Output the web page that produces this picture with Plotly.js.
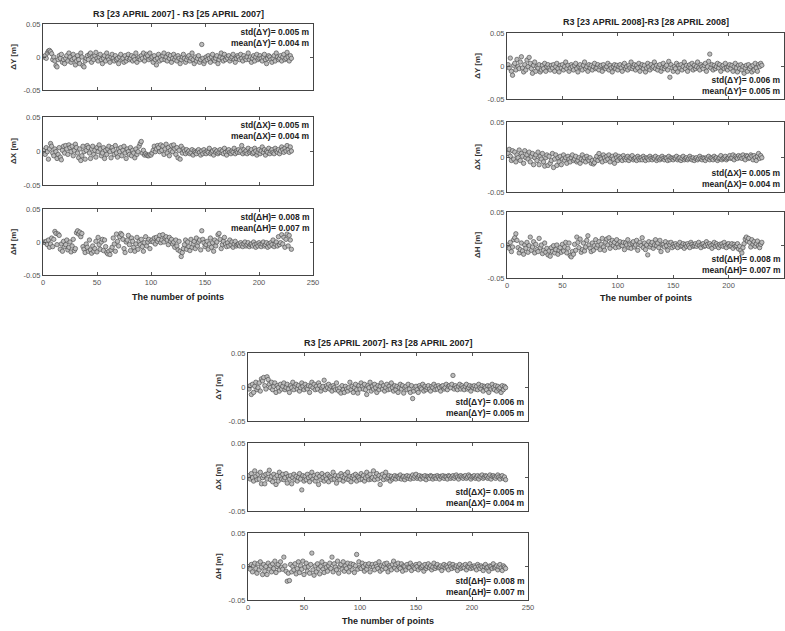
<!DOCTYPE html>
<html>
<head>
<meta charset="utf-8">
<script src="https://cdn.plot.ly/plotly-3.0.1.min.js"></script>
<style>html,body{margin:0;padding:0;background:#fff;}#chart{width:785px;height:631px;}</style>
</head>
<body>
<div id="chart"></div>
<script>
// ---------------- DATA ----------------
const pointNumber = [1,2,3,4,5,6,7,8,9,10,11,12,13,14,15,16,17,18,19,20,21,22,23,24,25,26,27,28,29,30,31,32,33,34,35,36,37,38,39,40,41,42,43,44,45,46,47,48,49,50,51,52,53,54,55,56,57,58,59,60,61,62,63,64,65,66,67,68,69,70,71,72,73,74,75,76,77,78,79,80,81,82,83,84,85,86,87,88,89,90,91,92,93,94,95,96,97,98,99,100,101,102,103,104,105,106,107,108,109,110,111,112,113,114,115,116,117,118,119,120,121,122,123,124,125,126,127,128,129,130,131,132,133,134,135,136,137,138,139,140,141,142,143,144,145,146,147,148,149,150,151,152,153,154,155,156,157,158,159,160,161,162,163,164,165,166,167,168,169,170,171,172,173,174,175,176,177,178,179,180,181,182,183,184,185,186,187,188,189,190,191,192,193,194,195,196,197,198,199,200,201,202,203,204,205,206,207,208,209,210,211,212,213,214,215,216,217,218,219,220,221,222,223,224,225,226,227,228,229,230];

const groupTitles = ["R3 [23 APRIL 2007] - R3 [25 APRIL 2007]", "R3 [23 APRIL 2008]-R3 [28 APRIL 2008]", "R3 [25 APRIL 2007]- R3 [28 APRIL 2007]"];
const componentNames = ["ΔY", "ΔX", "ΔH"];
const yTickValues = [-0.05, 0, 0.05];
const yTickLabels = ["-0.05", "0", "0.05"];
const xTickValues = [0, 50, 100, 150, 200, 250];
const xTickLabels = ["0", "50", "100", "150", "200", "250"];

// std / mean per group, per component (m)
const stdValues  = [[0.005, 0.005, 0.008], [0.006, 0.005, 0.008], [0.006, 0.005, 0.008]];
const meanValues = [[0.004, 0.004, 0.007], [0.005, 0.004, 0.007], [0.005, 0.004, 0.007]];

// Group 1: R3 [23 APRIL 2007] - R3 [25 APRIL 2007]
const g1DY = [0,0.002,-0.002,0.006,0.009,0.01,0.008,0.005,-0.004,0,
-0.006,-0.013,-0.015,-0.004,0.002,-0.002,0.004,-0.008,-0.004,-0.01,
-0.002,0.002,-0.006,0.006,0,-0.008,-0.004,0.004,-0.002,-0.012,
-0.006,0.002,-0.004,-0.01,0.006,0,-0.013,-0.015,-0.006,-0.002,
0.002,-0.004,0.004,0.006,-0.008,0,-0.004,0.002,0.007,-0.002,
-0.006,0,0.004,-0.004,-0.01,-0.002,0.002,-0.006,0.006,0,
-0.004,-0.008,0,0.004,-0.002,-0.006,0.002,-0.004,-0.002,-0.01,
0,0.004,-0.004,-0.002,-0.008,0.002,-0.006,-0.002,0.004,-0.004,
-0.002,0.002,-0.006,0,-0.004,0.006,-0.008,-0.002,0,-0.004,
0.002,-0.002,0.006,-0.006,0,0.004,0.002,-0.004,0.006,-0.002,
0,-0.008,0.002,-0.004,-0.012,-0.002,0.004,-0.006,0,-0.004,
0.002,0.006,-0.004,0,-0.006,0.004,-0.002,0.002,-0.008,-0.002,
0.004,-0.004,0,-0.006,0.002,-0.002,-0.01,-0.004,0,0.004,
-0.002,-0.008,-0.004,0,0.002,-0.006,-0.002,0.006,-0.004,-0.01,
0,-0.006,-0.002,0.002,-0.008,-0.004,0.019,-0.002,-0.01,-0.006,
0,-0.004,0.002,-0.002,-0.008,0,0.004,-0.004,-0.006,-0.002,
0.002,-0.01,-0.004,0,0.006,-0.002,-0.006,0.004,-0.004,0,
-0.002,0.002,-0.006,-0.002,0,0.004,-0.004,-0.008,-0.002,0.002,
0,-0.004,0.004,-0.002,-0.006,0.002,-0.002,-0.004,0,0.006,
-0.004,0,-0.008,-0.002,0.002,-0.006,0,0.004,-0.004,-0.002,
0.002,-0.002,-0.006,0,0.004,-0.004,-0.01,-0.002,0.002,0,
-0.004,-0.008,-0.002,0.002,-0.006,0.006,0,-0.004,-0.002,0.002,
-0.006,0,0.004,-0.004,-0.002,0.007,0,-0.006,0.002,-0.002];

const g1DX = [0.001,-0.005,0.005,-0.001,-0.012,0.003,0.011,0.007,-0.003,-0.007,
0.003,-0.001,-0.011,-0.005,0.005,-0.009,-0.013,0.001,0.007,-0.003,
0.008,0.003,-0.005,0.009,0.005,-0.001,0.007,-0.007,0.001,0.01,
0.005,-0.003,-0.01,0.003,-0.014,-0.007,0.007,-0.001,-0.012,0.001,
0.008,0.005,-0.003,-0.011,0.003,0.007,-0.005,0.001,-0.009,0.005,
-0.001,0.009,0.003,-0.007,-0.003,0.005,-0.011,0.001,-0.005,0.003,
0.007,-0.001,-0.01,0.005,0.001,-0.005,0.008,-0.003,-0.009,0.003,
-0.001,0.005,-0.007,0.001,0.007,-0.003,-0.011,0.003,-0.001,-0.005,
0.005,-0.007,0.001,-0.003,-0.01,0.003,-0.005,-0.001,0.007,0.011,
0.014,-0.003,0.001,-0.006,-0.004,-0.006,-0.007,-0.007,-0.005,-0.006,
-0.003,0.001,0.007,-0.001,0.003,0.008,0.005,-0.001,0.009,0.001,
0.007,-0.005,0.003,0.01,-0.003,0.005,-0.007,0.001,0.008,-0.001,
0.009,0.003,-0.005,0.005,-0.01,0.001,-0.012,0.007,-0.003,0.003,
0,-0.004,0.002,-0.002,0,-0.004,-0.002,0.002,-0.006,0,
-0.002,-0.004,0,0.002,-0.002,-0.006,0,-0.004,0.002,-0.002,
-0.004,0,-0.002,0.004,-0.004,-0.002,0,-0.006,0.002,-0.002,
0,-0.004,-0.002,0.002,-0.002,0,-0.004,0.004,-0.002,-0.006,
0,0.002,-0.002,-0.004,0,-0.002,0.004,-0.004,0,-0.002,
0.002,-0.002,0,0.008,-0.004,0.002,-0.002,0,-0.004,0.004,
-0.002,0,0.002,-0.004,-0.002,0.004,0,-0.006,-0.002,0.002,
-0.004,0,0.006,-0.002,0.002,-0.006,0,-0.002,0.004,-0.004,
0,0.002,-0.002,-0.004,0.004,0,-0.002,0.002,-0.004,0,
0.006,0.002,-0.002,0.004,0,0.008,0.002,-0.002,0.006,0];

const g1DH = [0,-0.001,0.001,-0.004,0.003,-0.008,-0.003,0.006,-0.007,0.004,
0.016,0.013,-0.004,0.012,0.01,-0.011,-0.003,-0.014,0.001,-0.007,
-0.004,0.003,-0.012,-0.008,0,-0.015,-0.006,0.004,-0.013,-0.01,
0.014,0.017,0.012,0.015,0.008,0.013,-0.007,-0.011,-0.016,-0.003,
-0.008,-0.014,0.003,-0.012,-0.017,-0.006,-0.014,-0.01,0.001,-0.015,
0.007,-0.004,-0.011,0,0.004,-0.013,0.003,-0.007,-0.016,-0.018,
-0.014,-0.019,-0.012,-0.008,0.006,-0.003,-0.014,0.012,0.001,-0.006,
0.008,0.013,0.011,0.004,-0.01,-0.016,0,0.003,0.01,-0.004,
-0.013,0.006,0.001,-0.008,-0.014,-0.003,0.007,-0.011,0.001,-0.004,
0.004,-0.007,-0.014,-0.001,0.008,-0.006,0,0.004,-0.01,0.001,
0.003,0,0.006,-0.003,0.007,0.001,0.004,0.01,-0.001,0.003,
0.011,0,0.006,0.008,0.003,-0.004,0.007,0.001,0.004,-0.003,
0,-0.008,0.003,-0.006,-0.012,0.001,-0.014,-0.022,-0.016,-0.01,
-0.004,0.003,-0.011,0,-0.007,-0.013,0.004,-0.008,-0.003,0.001,
-0.01,0.006,-0.006,0,0.003,-0.012,0.017,0.004,-0.001,-0.007,
-0.004,0.001,-0.011,-0.003,0.006,-0.008,-0.001,-0.014,0.003,-0.006,
0,0.011,0.013,0.004,-0.01,-0.004,0.001,0.007,-0.003,-0.007,
-0.001,-0.006,0.003,-0.004,0,-0.008,-0.003,0.001,-0.006,-0.004,
-0.003,-0.006,-0.001,-0.004,-0.007,-0.003,0,-0.006,-0.004,-0.001,
-0.007,-0.004,-0.003,-0.006,0,-0.004,-0.008,-0.003,-0.006,-0.001,
-0.004,-0.007,-0.003,0,-0.006,-0.004,-0.001,-0.008,-0.003,-0.006,
-0.001,-0.004,0.003,-0.007,-0.003,0,-0.006,0.008,-0.004,-0.001,
0.011,-0.003,0.007,-0.008,0.004,0.012,-0.006,0.01,0.003,-0.011];

// Group 2: R3 [23 APRIL 2008]-R3 [28 APRIL 2008]
const g2DY = [0.002,-0.003,0.012,-0.008,-0.014,0.001,0.004,-0.006,0.01,-0.001,
-0.004,0.006,0.014,-0.003,-0.009,0.002,-0.006,0.009,-0.001,0.013,
0.004,-0.004,-0.011,0.001,0.006,-0.008,-0.001,-0.003,0.002,-0.009,
-0.006,0.001,-0.004,0.004,-0.008,-0.001,0.002,-0.003,-0.006,0.001,
-0.003,0.002,-0.008,-0.001,0.004,-0.004,-0.009,0.001,-0.003,0.002,
-0.006,-0.001,0.006,-0.004,0.001,-0.008,-0.003,0.002,-0.001,-0.006,
0.001,0.004,-0.004,-0.009,-0.001,0.002,-0.003,-0.006,0.001,0.006,
-0.004,-0.001,-0.008,0.002,-0.003,0.001,-0.006,-0.001,0.004,-0.004,
-0.003,0.002,-0.006,-0.001,0.001,-0.008,0.002,-0.003,-0.004,-0.001,
0.004,-0.006,0.001,-0.003,-0.009,-0.001,0.002,-0.004,0.001,-0.006,
-0.001,0.002,-0.003,-0.008,0.001,0.004,-0.004,-0.001,-0.006,0.001,
-0.003,0.006,-0.004,-0.001,0.002,-0.006,0.001,-0.003,0.004,-0.008,
-0.001,0.002,-0.004,0.001,-0.009,-0.003,0.004,-0.001,-0.006,0.002,
-0.003,-0.001,0.006,-0.004,0.001,-0.006,-0.001,0.002,-0.008,-0.003,
0.004,-0.004,-0.001,0.001,-0.006,0.007,-0.017,0.002,-0.003,-0.008,
-0.001,-0.004,0.004,-0.009,0.001,-0.003,0.002,-0.006,-0.001,0.006,
-0.004,0.001,-0.008,-0.001,0.002,-0.003,0.004,-0.006,0.001,-0.004,
-0.001,0.006,-0.003,-0.006,0.002,-0.001,-0.004,0.001,0.004,-0.008,
-0.001,0.007,0.018,-0.003,0.002,-0.006,0.001,-0.004,-0.001,0.004,
-0.003,0.002,-0.008,-0.001,0.001,-0.004,0.004,-0.003,-0.006,-0.001,
0.002,-0.004,0.001,-0.008,-0.001,0.004,-0.003,-0.009,0.001,-0.004,
0.002,-0.006,-0.001,-0.011,-0.003,0.001,-0.008,0.002,-0.004,-0.001,
-0.009,0.001,-0.006,0.004,-0.003,-0.008,0.002,-0.001,0.004,0.001];

const g2DX = [0.005,0.011,0.001,-0.005,0.009,-0.003,0.007,-0.007,0.003,-0.001,
0.01,-0.005,0.005,0.001,-0.009,0.009,-0.001,0.003,-0.003,0.007,
-0.007,0.001,0.005,-0.011,-0.001,0.003,-0.005,0.007,-0.011,0.001,
-0.003,0.005,-0.007,-0.013,-0.001,0.003,-0.012,0.001,-0.009,-0.005,
0.005,-0.015,-0.003,0.003,-0.012,-0.001,-0.007,0.001,-0.011,-0.003,
0.003,-0.005,-0.001,-0.009,0.001,-0.003,-0.007,-0.001,0.003,-0.005,
-0.003,0.001,-0.007,-0.005,-0.001,-0.009,-0.003,0.003,-0.005,-0.001,
-0.007,0.001,-0.003,-0.005,-0.001,-0.009,-0.005,-0.01,-0.008,-0.003,
0.001,-0.005,0.005,-0.001,-0.003,-0.007,0.003,-0.001,-0.005,0.001,
-0.003,0.003,-0.007,-0.001,0.001,-0.003,-0.009,0.003,-0.001,-0.005,
0.001,-0.002,-0.001,-0.005,0.002,-0.002,-0.004,-0.001,0.001,-0.005,
-0.001,-0.002,0.002,-0.004,-0.002,-0.001,-0.005,0.001,-0.002,-0.004,
-0.001,-0.004,0.001,-0.002,-0.005,-0.001,-0.002,-0.004,0.001,-0.002,
-0.004,-0.001,-0.002,0.001,-0.005,-0.002,-0.001,-0.004,-0.002,0.001,
-0.002,-0.004,-0.001,-0.002,-0.005,0.001,-0.004,-0.001,-0.002,-0.004,
-0.001,-0.002,0.001,-0.004,-0.002,-0.001,-0.005,-0.002,0.001,-0.004,
-0.002,-0.001,-0.004,-0.002,0.001,-0.002,-0.004,-0.001,-0.005,-0.002,
-0.001,-0.004,-0.002,0.001,-0.002,-0.004,-0.001,-0.002,-0.005,-0.001,
-0.002,0.001,-0.004,-0.001,-0.002,-0.004,0.001,-0.002,-0.001,-0.005,
-0.002,-0.001,0.002,-0.004,-0.002,-0.001,0.001,-0.004,-0.002,-0.001,
0.002,-0.002,-0.001,0.003,-0.004,0.001,-0.001,-0.002,0.002,-0.001,
0.001,-0.002,0.003,-0.001,-0.004,0.002,0.001,-0.002,-0.001,0.003,
0.001,-0.004,0.002,-0.001,-0.005,0.001,0.005,-0.002,0.002,-0.001];

const g2DH = [0,-0.005,0.004,-0.01,-0.003,0.008,0.011,0.017,0.007,-0.004,
-0.012,-0.007,0.003,-0.009,-0.014,0,-0.005,0.004,-0.011,-0.001,
0.012,-0.008,-0.003,0.005,-0.012,0.001,-0.007,-0.01,0.01,-0.004,
0,-0.013,-0.008,0.003,-0.011,-0.005,-0.015,-0.009,-0.017,-0.004,
-0.01,-0.001,-0.012,-0.007,0,-0.014,-0.008,-0.004,-0.011,0.001,
-0.009,-0.003,0.004,-0.012,-0.005,0.003,-0.016,-0.018,-0.01,-0.014,
0.001,-0.008,0.012,0.004,-0.004,0.009,-0.011,-0.007,0.003,-0.009,
-0.003,0.007,0.014,0,-0.005,-0.01,0.003,-0.008,-0.001,0.008,
-0.004,0,0.005,-0.007,0.001,0.01,-0.003,-0.008,0.004,0.009,
0,0.011,-0.005,0.003,0.007,-0.001,0.004,-0.004,0.008,0.001,
-0.003,0.005,0,-0.001,0.004,-0.007,0.003,0,0.008,-0.004,
0.001,-0.005,0.003,0.005,-0.003,0,0.007,-0.008,0.001,0.004,
-0.001,0.011,-0.004,0.003,-0.007,0,-0.015,0.005,-0.003,0.001,
0.004,-0.005,0,0.008,-0.001,0.003,-0.004,0.007,-0.01,0,
0.001,-0.003,0.005,-0.001,-0.008,0.003,0,0.004,-0.004,0.001,
-0.002,0.002,-0.001,-0.004,0.001,0.004,-0.002,-0.001,0.002,-0.005,
0.001,-0.002,0.002,-0.001,-0.004,0.004,0.001,-0.002,-0.001,0.002,
-0.002,0.001,0.004,-0.001,-0.004,0.001,0.002,-0.002,-0.001,0.005,
0.001,-0.002,0.002,-0.001,-0.005,0.001,0.004,-0.002,0.002,-0.001,
-0.004,0.001,-0.001,0.002,-0.002,0.004,-0.001,-0.004,0.001,0.002,
-0.002,-0.001,0.002,-0.005,0.001,-0.002,-0.001,0.002,-0.006,-0.002,
-0.008,-0.012,-0.004,0.002,0.009,0.012,0.006,0.01,0.004,-0.003,
0.008,0.001,0.005,-0.002,0.002,0.006,-0.001,-0.004,0.001,0.004];

// Group 3: R3 [25 APRIL 2007]- R3 [28 APRIL 2007]
const g3DY = [-0.003,0.002,-0.011,0.004,-0.008,0.001,0.007,-0.004,-0.001,0.006,
-0.006,0.012,0.009,0.014,0.002,-0.003,0.015,0.011,0.004,-0.001,
0.007,-0.004,0.001,0.006,-0.008,0.002,-0.001,-0.006,0.004,-0.003,
0.001,0.006,-0.004,-0.001,0.004,-0.003,-0.008,0.002,-0.001,0.007,
-0.004,0.001,0.004,-0.003,0.002,-0.006,-0.001,0.006,0.001,-0.004,
0.004,-0.001,-0.003,0.002,-0.008,0.001,0.007,-0.001,0.004,-0.004,
0.001,-0.003,0.006,0.002,-0.006,-0.001,0.001,0.01,-0.004,0.002,
-0.001,0.004,-0.003,0.001,-0.006,0.002,-0.001,-0.004,0.006,-0.003,
-0.006,-0.001,-0.009,0.002,-0.004,-0.008,0.001,-0.003,-0.006,-0.001,
0.007,-0.004,0.001,-0.008,-0.001,0.004,-0.004,-0.009,0.002,-0.003,
0.006,0.001,-0.003,0.004,-0.004,-0.011,0.002,-0.001,0.007,-0.006,
0.001,-0.003,0.004,-0.001,-0.008,0.002,-0.004,0.001,0.006,-0.003,
0.002,-0.006,-0.001,0.004,-0.004,0.001,-0.003,0.006,-0.001,-0.006,
0.002,-0.004,0.001,-0.008,-0.001,0.004,-0.003,0.002,-0.009,-0.001,
0.001,-0.004,0.004,-0.003,-0.008,0.002,-0.017,-0.006,-0.001,0.001,
-0.004,-0.008,0.002,-0.001,-0.003,0.004,-0.006,0.001,-0.004,-0.001,
0.002,-0.003,-0.006,0.001,-0.001,0.004,-0.004,0.001,-0.003,0.002,
-0.001,-0.006,0.001,0.002,-0.003,-0.001,0.004,-0.004,0.001,0.002,
-0.001,0.004,0.017,-0.003,0.002,-0.001,-0.004,0.001,0.004,-0.003,
0.002,-0.001,-0.004,0.001,0.004,-0.003,-0.001,0.002,-0.006,0.001,
-0.001,0.002,-0.003,0.001,-0.004,0.004,-0.001,-0.003,0.002,-0.006,
0.001,-0.001,-0.004,0.002,-0.008,0.001,-0.003,0.004,-0.001,-0.004,
0.002,-0.006,0.001,-0.003,-0.001,-0.008,0.002,-0.004,0.001,-0.001];

const g3DX = [0.002,-0.003,0.005,-0.001,-0.006,0.009,0.001,-0.004,0.004,-0.003,
0.007,-0.01,-0.001,0.002,-0.01,0.004,-0.003,0.005,0.01,-0.004,
0.001,-0.007,0.004,-0.001,-0.011,0.002,-0.006,0.007,0.001,-0.003,
0.004,-0.004,-0.001,0.005,-0.009,0.001,-0.003,0.002,-0.01,-0.001,
0.004,-0.004,0.001,-0.006,-0.001,0.005,-0.003,-0.019,0.002,-0.006,
0.001,-0.004,0.004,-0.001,-0.007,0.001,0.007,-0.003,0.002,-0.006,
-0.001,0.004,-0.011,0.001,-0.004,0.005,-0.001,-0.006,0.002,-0.003,
0.004,-0.007,0.001,-0.001,-0.004,0.007,-0.003,0.002,-0.009,-0.001,
0.002,-0.004,0.005,0.001,-0.006,-0.001,0.004,-0.003,0.007,-0.004,
0.001,-0.007,-0.001,0.002,-0.003,0.004,-0.006,0.001,-0.001,-0.004,
0.005,-0.003,0.002,-0.006,-0.001,0.007,0.001,-0.004,0.004,-0.003,
-0.001,0.009,-0.004,0.001,0.005,-0.003,0.002,-0.011,-0.001,0.004,
-0.004,0.001,0.007,-0.003,-0.001,0.002,-0.006,0.001,-0.003,-0.001,
0.002,-0.003,0.001,0,-0.002,0.003,-0.003,0,0.001,-0.004,
0,0.002,-0.002,0.001,-0.003,0,0.003,-0.002,0.001,0.004,
-0.002,0,0.002,-0.003,0.001,0,-0.002,0.002,-0.004,0.001,
0,-0.002,0.002,0.001,-0.003,0,0.001,-0.002,0.002,0,
-0.003,0.001,0,0.002,-0.002,0.001,0,-0.003,0.002,0.001,
-0.002,0,0.002,-0.002,0.001,0.003,0,-0.003,0.001,0.002,
0,-0.002,0.001,0.002,-0.002,0,0.003,0.001,-0.003,0,
0.001,0.002,-0.002,0,0.002,-0.003,0.001,0,0.003,-0.002,
0,0.002,0.001,-0.002,0,0.003,-0.003,0.001,0.002,0,
-0.002,0.001,0.003,0,-0.003,0.001,0.002,-0.002,0,-0.004];

const g3DH = [0,-0.004,0.003,-0.008,0.001,0.005,-0.003,-0.01,0.004,-0.005,
0.007,-0.001,-0.012,0.003,-0.007,0,-0.012,0.005,-0.004,0.001,
-0.008,0.004,-0.003,0.008,-0.009,0,0.003,-0.005,0.007,-0.001,
-0.004,0.014,0.001,-0.007,-0.022,-0.01,-0.021,0.003,-0.008,0,
-0.005,0.004,-0.011,-0.003,0.007,-0.009,0.001,-0.004,0.008,-0.012,
-0.001,0.005,-0.007,0,-0.01,0.003,0.02,-0.005,-0.013,0.001,
-0.008,0.004,-0.003,-0.011,0,0.007,-0.004,-0.009,0.003,-0.001,
-0.007,0.001,0.005,-0.003,0.014,-0.008,0.004,-0.001,-0.005,0.008,
-0.01,0,0.003,-0.004,0.007,-0.007,0.001,-0.003,0.005,-0.008,
0,0.004,-0.005,0.003,-0.009,0.001,0.018,-0.004,0.007,-0.001,
-0.003,0.005,0,-0.007,0.003,-0.004,0.001,0.004,-0.008,0,
0.003,-0.001,-0.005,0.004,0,-0.003,0.007,-0.007,0.001,-0.004,
0,0.004,-0.003,0.005,-0.008,0.001,-0.001,-0.005,0.003,0.008,
-0.002,0.003,-0.005,0.005,-0.001,-0.003,0.004,-0.007,0.001,0,
-0.005,0.003,-0.001,-0.002,0.005,-0.006,0.001,-0.001,-0.003,0.003,
0,-0.005,0.004,-0.002,-0.001,0.001,-0.007,0.003,-0.003,0,
0.004,-0.002,0.001,-0.005,-0.001,0.005,-0.003,0,0.003,-0.002,
-0.001,0.001,-0.006,0,0.003,-0.002,0.001,-0.001,-0.005,0.004,
0,-0.003,0.003,-0.001,-0.002,0.001,-0.006,0,0.003,-0.003,
-0.001,0.001,-0.002,0.003,-0.005,0,-0.001,0.004,-0.003,0,
-0.002,0.001,-0.001,-0.005,0.003,0,-0.003,0.001,-0.001,-0.006,
0,0.003,-0.002,-0.001,-0.007,0.001,0,-0.003,0.004,-0.002,
-0.001,0.001,-0.005,0,0.003,-0.002,-0.006,0.001,-0.001,-0.003];

const seriesByGroup = [[g1DY, g1DX, g1DH], [g2DY, g2DX, g2DH], [g3DY, g3DX, g3DH]];

// ---------------- LAYOUT ----------------
const W = 785, H = 631;
const FONT = "Liberation Sans, Arial, Helvetica, sans-serif";
const groupBoxes = [
  {x: [43, 313], ys: [[24, 90], [117, 185], [209, 275]], titleY: 14, xTitleY: 297, statsTop: true},
  {x: [507, 784], ys: [[33, 99], [122, 192], [212, 278]], titleY: 22, xTitleY: 298, statsTop: false},
  {x: [248, 528], ys: [[353, 421], [443, 511], [533, 600]], titleY: 343, xTitleY: 621, statsTop: false}
];

const layout = {
  width: W, height: H,
  margin: {l: 0, r: 0, t: 0, b: 0},
  paper_bgcolor: "#ffffff", plot_bgcolor: "#ffffff",
  showlegend: false,
  font: {family: FONT, color: "#222"},
  annotations: []
};
const traces = [];

let k = 0;
groupBoxes.forEach((g, gi) => {
  const xd = [g.x[0] / W, g.x[1] / W];
  g.ys.forEach((yb, ci) => {
    k += 1;
    const sx = k === 1 ? "" : String(k);
    const yd = [1 - yb[1] / H, 1 - yb[0] / H];
    const isBottom = ci === 2;
    layout["xaxis" + sx] = {
      domain: xd, anchor: "y" + sx, range: [0, 250],
      tickmode: "array", tickvals: xTickValues, ticktext: xTickLabels,
      showticklabels: isBottom,
      ticks: "inside", ticklen: 3, tickwidth: 1, tickcolor: "#555",
      showline: true, linecolor: "#444", linewidth: 1, mirror: "ticks",
      showgrid: false, zeroline: false,
      tickfont: {size: 7.5, color: "#555", family: FONT}
    };
    layout["yaxis" + sx] = {
      domain: yd, anchor: "x" + sx, range: [-0.05, 0.05],
      tickmode: "array", tickvals: yTickValues, ticktext: yTickLabels,
      ticks: "inside", ticklen: 3, tickwidth: 1, tickcolor: "#555",
      showline: true, linecolor: "#444", linewidth: 1, mirror: "ticks",
      showgrid: false, zeroline: false,
      tickfont: {size: 7.5, color: "#555", family: FONT},
      title: {text: "<b>" + componentNames[ci] + " [m]</b>", font: {size: 8, color: "#333", family: FONT}, standoff: 5}
    };
    traces.push({
      type: "scatter", mode: "markers",
      x: pointNumber, y: seriesByGroup[gi][ci],
      xaxis: "x" + sx, yaxis: "y" + sx,
      marker: {symbol: "circle", size: 4.4, color: "#bcbcbc", line: {color: "#4a4a4a", width: 0.65}},
      hoverinfo: "skip"
    });
    layout.annotations.push({
      xref: "x" + sx + " domain", yref: "y" + sx + " domain",
      x: 0.995, y: g.statsTop ? 0.98 : 0.01,
      xanchor: "right", yanchor: g.statsTop ? "top" : "bottom", align: "right",
      showarrow: false,
      text: "<b>std(" + componentNames[ci] + ")= " + stdValues[gi][ci].toFixed(3) + " m<br>mean(" + componentNames[ci] + ")= " + meanValues[gi][ci].toFixed(3) + " m</b>",
      font: {size: 8.5, color: "#222", family: FONT}
    });
  });
  const cx = (g.x[0] + g.x[1]) / 2 / W;
  layout.annotations.push({
    xref: "paper", yref: "paper", x: cx, y: 1 - g.titleY / H,
    xanchor: "center", yanchor: "middle", showarrow: false,
    text: "<b>" + groupTitles[gi] + "</b>", font: {size: 9, color: "#222", family: FONT}
  });
  layout.annotations.push({
    xref: "paper", yref: "paper", x: cx, y: 1 - g.xTitleY / H,
    xanchor: "center", yanchor: "middle", showarrow: false,
    text: "<b>The number of points</b>", font: {size: 9, color: "#222", family: FONT}
  });
});

Plotly.newPlot("chart", traces, layout, {staticPlot: true, displayModeBar: false});
</script>
</body>
</html>
